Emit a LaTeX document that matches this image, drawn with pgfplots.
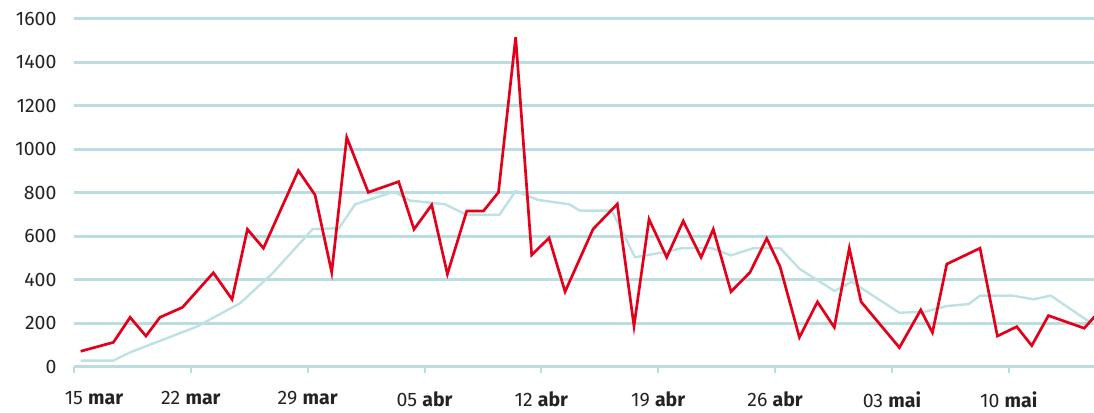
\documentclass[border=0pt]{standalone}
\usepackage{pgfplots}
\pgfplotsset{compat=1.18}
\usepackage{fontspec}
\setmainfont{Fira Sans}
\definecolor{redline}{RGB}{226,0,26}
\definecolor{gridblue}{RGB}{185,221,225}
\definecolor{avgblue}{RGB}{190,225,228}
\definecolor{txt}{RGB}{35,35,35}
\begin{document}
\begin{tikzpicture}
\begin{axis}[
  scale only axis,
  width=1020pt, height=347.9pt,
  xmin=0, xmax=61.11, ymin=0, ymax=1600,
  axis x line*=bottom, axis y line*=left,
  y axis line style={draw=none},
  x axis line style={gridblue, line width=2.6pt},
  ytick={0,200,...,1600},
  ytick style={draw=none},
  xtick={0,7,...,56},
  xticklabels={\hspace*{40pt}15 \textbf{mar},22 \textbf{mar},29 \textbf{mar},05 \textbf{abr},12 \textbf{abr},19 \textbf{abr},26 \textbf{abr},03 \textbf{mai},10 \textbf{mai}},
  xtick align=outside,
  xtick style={gridblue, line width=2pt},
  major tick length=6pt,
  ymajorgrids,
  grid style={gridblue, line width=2.6pt},
  tick label style={font=\fontsize{19.5}{22}\selectfont, text=txt},
  xticklabel style={yshift=-15.5pt},
  yticklabel style={xshift=-14pt},
  /pgf/number format/1000 sep={},
  /pgf/number format/assume math mode=true,
  clip=true,
]
\addplot[avgblue, line width=2.4pt, line join=round] coordinates {
(0.40,28) (2.35,28) (3.36,66) (7.35,184) (9.95,292) (11.9,430) (14.3,633)
(15.88,637) (16.84,747) (19.19,805) (20.13,764) (22.23,747) (23.53,698)
(25.48,698) (26.46,808) (27.80,767) (29.67,747) (30.30,718) (32.22,718)
(33.61,503) (35.51,529) (36.41,545) (38.20,545) (39.36,512) (40.70,545)
(42.30,545) (43.50,448) (45.57,348) (46.60,391) (47.50,345) (49.45,248)
(51.00,253) (52.29,279) (53.60,288) (54.28,327) (56.20,327) (57.50,310)
(58.52,327) (60.87,204) (61.20,195)
};
\addplot[redline, line width=2.7pt, line join=miter] coordinates {
(0.40,71) (2.36,112) (3.36,227) (4.31,141) (5.15,227) (6.50,273) (8.35,432)
(9.47,310) (10.39,632) (11.35,545) (13.44,902) (14.44,790) (15.44,434)
(16.34,1055) (17.63,802) (19.45,851) (20.37,632) (21.43,744) (22.37,426)
(23.53,716) (24.53,716) (25.43,802) (26.46,1515) (27.42,514) (28.46,592)
(29.42,345) (31.10,633) (32.55,748) (33.55,187) (34.45,678) (35.51,503)
(36.50,670) (37.57,503) (38.30,632) (39.36,345) (40.50,434) (41.50,590)
(42.30,460) (43.46,135) (44.54,298) (45.55,181) (46.45,545) (47.15,299)
(49.45,88) (50.73,261) (51.43,157) (52.29,472) (54.28,545) (55.32,141)
(56.48,184) (57.38,97) (58.38,235) (60.52,177) (61.20,235)
};
\end{axis}
\pgfresetboundingbox
\path[use as bounding box] (-74pt,-45.3pt) rectangle (1020pt,366.7pt);
\end{tikzpicture}
\end{document}
